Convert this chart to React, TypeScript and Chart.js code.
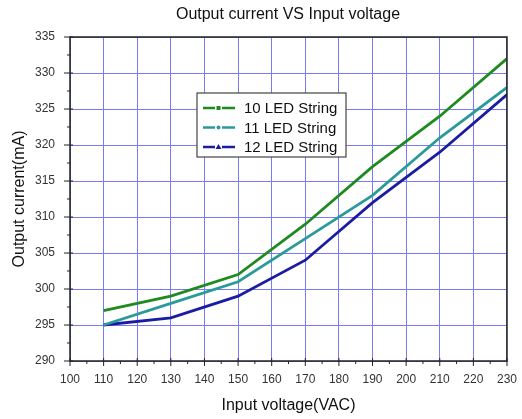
import React, { useEffect, useRef } from "react";
import { Chart, registerables } from "chart.js";

Chart.register(...registerables);

const voltages = [110, 130, 150, 170, 190, 210, 230];
const led10 = [297, 299, 302, 309, 317, 324, 332];
const led11 = [295, 298, 301, 307, 313, 321, 328];
const led12 = [295, 296, 299, 304, 312, 319, 327];
const seriesNames = ["10 LED String", "11 LED String", "12 LED String"];
const seriesColors = ["#1f8a1f", "#2a9a9a", "#1c1ca0"];
const markers = ["rect", "circle", "triangle"];

const FONT = "Arial, 'Liberation Sans', sans-serif";

const decoPlugin = {
  id: "deco",
  afterDraw(chart: any) {
    const { ctx, chartArea: a, scales } = chart;
    const xs = scales.x;
    const ys = scales.y;
    ctx.save();
    ctx.strokeStyle = "#222";
    ctx.lineWidth = 1.5;
    ctx.strokeRect(a.left, a.top, a.right - a.left, a.bottom - a.top);
    ctx.lineWidth = 1;
    for (let v = 100; v <= 230; v += 5) {
      const px = xs.getPixelForValue(v);
      const major = v % 10 === 0;
      ctx.beginPath();
      ctx.moveTo(px, a.bottom - (major ? 3 : 0));
      ctx.lineTo(px, a.bottom + (major ? 5 : 3));
      ctx.stroke();
    }
    for (let v = 290; v <= 335; v += 2.5) {
      const py = ys.getPixelForValue(v);
      const major = v % 5 === 0;
      ctx.beginPath();
      ctx.moveTo(a.left - (major ? 6 : 3), py);
      ctx.lineTo(a.left + (major ? 3 : 0), py);
      ctx.stroke();
    }
    ctx.fillStyle = "#111";
    ctx.font = "16px " + FONT;
    ctx.textAlign = "center";
    ctx.textBaseline = "middle";
    ctx.fillText("Output current VS Input voltage", 288, 15);
    const lx = 197, ly = 93, lw = 149, lh = 64;
    ctx.fillStyle = "#fff";
    ctx.fillRect(lx, ly, lw, lh);
    ctx.strokeStyle = "#444";
    ctx.lineWidth = 1.2;
    ctx.strokeRect(lx, ly, lw, lh);
    ctx.font = "15px " + FONT;
    ctx.textAlign = "left";
    for (let i = 0; i < seriesNames.length; i++) {
      const y = ly + 15 + i * 19.5;
      ctx.strokeStyle = seriesColors[i];
      ctx.fillStyle = seriesColors[i];
      ctx.lineWidth = 2.5;
      ctx.beginPath();
      ctx.moveTo(lx + 6, y);
      ctx.lineTo(lx + 18, y);
      ctx.moveTo(lx + 25, y);
      ctx.lineTo(lx + 38, y);
      ctx.stroke();
      const cx = lx + 21.5;
      ctx.beginPath();
      if (markers[i] === "rect") ctx.rect(cx - 2, y - 2, 4, 4);
      else if (markers[i] === "circle") ctx.arc(cx, y, 2, 0, Math.PI * 2);
      else {
        ctx.moveTo(cx, y - 3);
        ctx.lineTo(cx + 3, y + 2);
        ctx.lineTo(cx - 3, y + 2);
        ctx.closePath();
      }
      ctx.fill();
      ctx.fillStyle = "#111";
      ctx.fillText(seriesNames[i], lx + 47, y + 1);
    }
    ctx.restore();
  },
};

export default function App() {
  const ref = useRef<HTMLCanvasElement>(null);
  useEffect(() => {
    document.body.style.margin = "0";
    const mk = (vals: number[]) => voltages.map((v, i) => ({ x: v, y: vals[i] }));
    const chart = new Chart(ref.current!, {
      type: "line",
      data: {
        datasets: [led10, led11, led12].map((vals, i) => ({
          label: seriesNames[i],
          data: mk(vals),
          borderColor: seriesColors[i],
          backgroundColor: seriesColors[i],
          borderWidth: 2.8,
          pointRadius: 0,
          tension: 0,
        })),
      },
      options: {
        animation: false,
        responsive: false,
        layout: { padding: { top: 37, right: 14, left: 0, bottom: 0 } },
        plugins: { legend: { display: false }, tooltip: { enabled: false } },
        scales: {
          x: {
            type: "linear",
            min: 100,
            max: 230,
            afterFit: (s: any) => { s.height = 58; },
            ticks: { stepSize: 10, color: "#333", font: { size: 12, family: FONT }, padding: 5, maxRotation: 0 },
            grid: { color: "#7a7af2", lineWidth: 1, drawTicks: true, tickLength: 6, tickColor: "rgba(0,0,0,0)" },
            border: { display: false },
            title: { display: true, text: "Input voltage(VAC)", color: "#111", font: { size: 16, family: FONT }, padding: { top: 3 } },
          },
          y: {
            type: "linear",
            min: 290,
            max: 335,
            afterFit: (s: any) => { s.width = 70; },
            ticks: { stepSize: 5, color: "#333", font: { size: 12, family: FONT }, padding: 7 },
            grid: { color: "#7a7af2", lineWidth: 1, drawTicks: true, tickLength: 8, tickColor: "rgba(0,0,0,0)" },
            border: { display: false },
            title: { display: true, text: "Output current(mA)", color: "#111", font: { size: 16, family: FONT }, padding: { top: 10, bottom: 0 } },
          },
        },
      },
      plugins: [decoPlugin],
    });
    return () => chart.destroy();
  }, []);
  return (
    <div style={{ width: 522, height: 419, background: "#fff" }}>
      <canvas ref={ref} width={522} height={419} style={{ display: "block" }} />
    </div>
  );
}
